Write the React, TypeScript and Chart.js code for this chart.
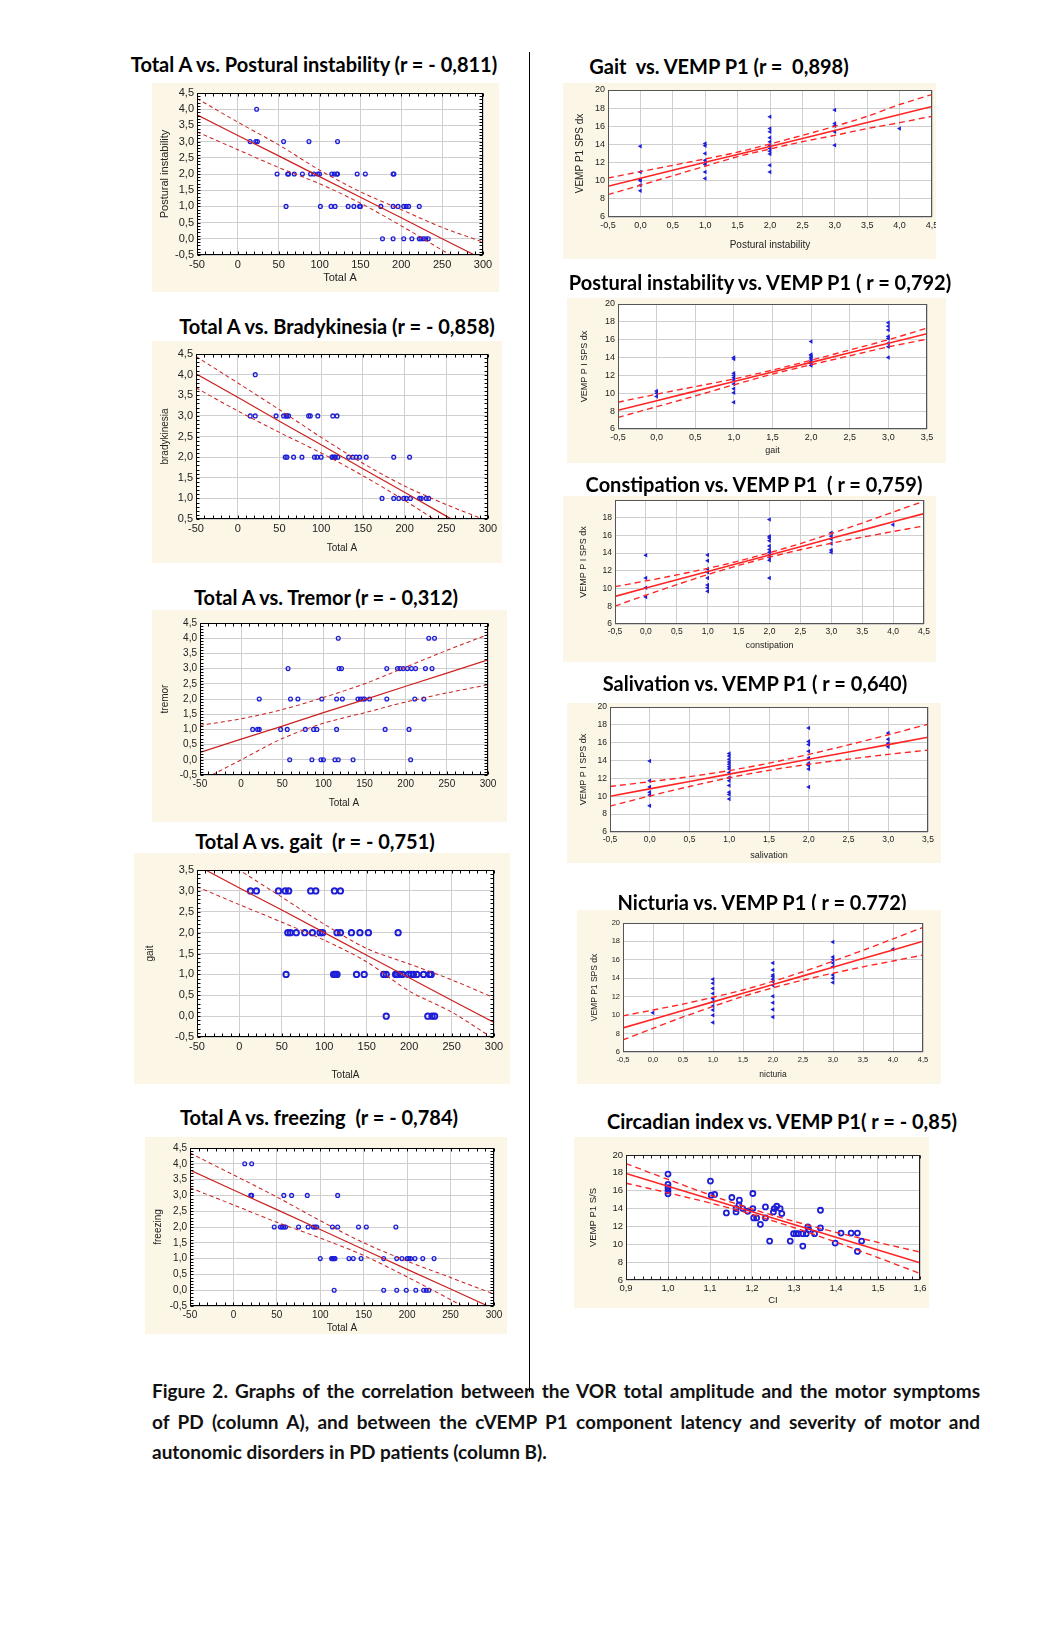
import React, { useEffect, useRef } from 'react';
import { Chart, registerables } from 'chart.js';
Chart.register(...registerables);

// ---------------- DATA ----------------
// Column A: Total A (x) vs motor symptom (y)
const p1X = [23, 15, 22, 24, 56, 87, 122, 48, 61, 62, 69, 79, 89, 93, 98, 100, 115, 118, 121, 122, 146, 156, 190, 191, 59, 101, 114, 119, 135, 142, 149, 150, 175, 190, 196, 203, 206, 209, 222, 177, 190, 203, 213, 222, 224, 227, 230, 233];
const p1Y = [4, 3, 3, 3, 3, 3, 3, 2, 2, 2, 2, 2, 2, 2, 2, 2, 2, 2, 2, 2, 2, 2, 2, 2, 1, 1, 1, 1, 1, 1, 1, 1, 1, 1, 1, 1, 1, 1, 1, 0, 0, 0, 0, 0, 0, 0, 0, 0];

const p2X = [21, 15, 21, 46, 55, 58, 59, 61, 85, 87, 96, 114, 119, 57, 59, 67, 77, 92, 95, 100, 113, 114, 116, 117, 120, 133, 138, 142, 146, 154, 187, 206, 173, 187, 193, 199, 202, 207, 218, 220, 226, 229];
const p2Y = [4, 3, 3, 3, 3, 3, 3, 3, 3, 3, 3, 3, 3, 2, 2, 2, 2, 2, 2, 2, 2, 2, 2, 2, 2, 2, 2, 2, 2, 2, 2, 2, 1, 1, 1, 1, 1, 1, 1, 1, 1, 1];

const p3X = [118, 228, 235, 57, 119, 122, 177, 190, 193, 197, 202, 207, 212, 224, 232, 22, 60, 69, 98, 116, 123, 142, 145, 148, 150, 156, 177, 211, 222, 14, 20, 22, 48, 56, 78, 88, 92, 116, 175, 204, 59, 86, 97, 100, 114, 118, 136, 206];
const p3Y = [4, 4, 4, 3, 3, 3, 3, 3, 3, 3, 3, 3, 3, 3, 3, 2, 2, 2, 2, 2, 2, 2, 2, 2, 2, 2, 2, 2, 2, 1, 1, 1, 1, 1, 1, 1, 1, 1, 1, 1, 0, 0, 0, 0, 0, 0, 0, 0];

const p4X = [13, 20, 46, 54, 58, 84, 90, 112, 119, 57, 60, 67, 77, 86, 95, 98, 115, 119, 132, 142, 152, 187, 205, 55, 111, 113, 115, 138, 147, 170, 173, 184, 186, 189, 192, 199, 202, 209, 217, 224, 226, 173, 222, 227, 230];
const p4Y = [3, 3, 3, 3, 3, 3, 3, 3, 3, 2, 2, 2, 2, 2, 2, 2, 2, 2, 2, 2, 2, 2, 1, 1, 1, 1, 1, 1, 1, 1, 1, 1, 1, 1, 1, 1, 1, 1, 1, 1, 1, 0, 0, 0, 0];

const p5X = [13, 21, 20, 21, 58, 67, 85, 120, 47, 54, 56, 58, 60, 75, 86, 92, 94, 96, 114, 120, 144, 153, 187, 100, 113, 114, 115, 116, 117, 133, 138, 147, 173, 188, 194, 200, 202, 204, 209, 218, 231, 116, 173, 188, 199, 210, 219, 222, 225, 227];
const p5Y = [4, 4, 3, 3, 3, 3, 3, 3, 2, 2, 2, 2, 2, 2, 2, 2, 2, 2, 2, 2, 2, 2, 2, 1, 1, 1, 1, 1, 1, 1, 1, 1, 1, 1, 1, 1, 1, 1, 1, 1, 1, 0, 0, 0, 0, 0, 0, 0, 0];

const totalAX = [-50, 0, 50, 100, 150, 200, 250, 300];
const p1Fit = [3.83, 3.19, 2.56, 1.92, 1.28, 0.65, 0.0, -0.63];
const p1Up = [4.33, 3.6, 2.9, 2.12, 1.45, 0.9, 0.35, -0.1];
const p1Lo = [3.3, 2.75, 2.2, 1.7, 1.1, 0.4, -0.35, -1.1];
const p2Fit = [4.02, 3.45, 2.87, 2.3, 1.72, 1.15, 0.57, 0.0];
const p2Up = [4.44, 3.8, 3.15, 2.48, 1.85, 1.3, 0.85, 0.45];
const p2Lo = [3.68, 3.12, 2.6, 2.1, 1.55, 0.95, 0.3, -0.35];
const p3Fit = [0.24, 0.68, 1.11, 1.55, 1.98, 2.42, 2.85, 3.29];
const p3Up = [1.13, 1.35, 1.65, 2.05, 2.5, 3.05, 3.6, 4.12];
const p3Lo = [-0.7, 0.0, 0.7, 1.2, 1.55, 1.9, 2.2, 2.47];
const p4Fit = [3.61, 3.07, 2.54, 2.0, 1.46, 0.92, 0.38, -0.15];
const p4Up = [4.2, 3.5, 2.85, 2.2, 1.62, 1.25, 0.87, 0.44];
const p4Lo = [3.1, 2.67, 2.25, 1.82, 1.3, 0.6, 0.1, -0.55];
const p5Fit = [3.8, 3.17, 2.55, 1.92, 1.29, 0.66, 0.04, -0.59];
const p5Up = [4.34, 3.65, 2.95, 2.2, 1.5, 0.92, 0.4, -0.12];
const p5Lo = [3.24, 2.7, 2.15, 1.65, 1.1, 0.42, -0.3, -1.05];

// Column B: symptom score (x) vs VEMP P1 latency (y)
const p6X = [0, 0, 0, 0, 0, 0, 1, 1, 1, 1, 1, 1, 1, 1, 2, 2, 2, 2, 2, 2, 2, 2, 2, 2, 2, 3, 3, 3, 3, 3, 4];
const p6Y = [13.8, 10.95, 10.1, 10.0, 9.5, 8.9, 14.1, 13.85, 13.0, 12.25, 12.0, 11.8, 10.95, 10.25, 17.05, 15.75, 15.4, 14.75, 14.3, 13.85, 13.55, 13.25, 12.95, 11.7, 10.95, 17.8, 16.3, 16.05, 15.4, 13.9, 15.75];

const p7X = [0, 0, 0, 1, 1, 1, 1, 1, 1, 1, 1, 1, 1, 2, 2, 2, 2, 2, 2, 2, 2, 3, 3, 3, 3, 3, 3, 3, 3];
const p7Y = [10.25, 10.0, 9.65, 14.0, 13.85, 12.25, 12.0, 11.75, 11.5, 11.05, 10.5, 10.05, 9.0, 15.8, 14.35, 14.2, 14.0, 13.85, 13.6, 13.35, 13.1, 17.9, 17.5, 17.1, 16.35, 16.15, 15.6, 15.2, 14.0];

const p8X = [0, 0, 0, 0, 1, 1, 1, 1, 1, 1, 1, 1, 2, 2, 2, 2, 2, 2, 2, 2, 2, 2, 2, 3, 3, 3, 3, 3, 3, 4];
const p8Y = [13.75, 11.2, 10.1, 9.05, 13.8, 13.15, 12.2, 11.85, 11.2, 10.4, 10.1, 9.7, 17.8, 15.9, 15.7, 15.4, 14.8, 14.4, 14.1, 13.8, 13.5, 13.2, 11.2, 16.3, 15.9, 15.6, 15.1, 14.35, 14.1, 17.2];

const p9X = [0, 0, 0, 0, 0, 0, 1, 1, 1, 1, 1, 1, 1, 1, 1, 1, 1, 1, 1, 1, 2, 2, 2, 2, 2, 2, 2, 2, 2, 3, 3, 3, 3];
const p9Y = [13.95, 11.75, 11.05, 10.45, 10.15, 8.95, 14.8, 14.5, 14.15, 13.85, 13.6, 13.3, 13.05, 12.65, 12.1, 11.75, 11.2, 10.45, 10.2, 9.7, 17.65, 16.15, 15.8, 15.05, 14.3, 13.7, 13.45, 13.05, 11.05, 17.1, 16.4, 15.95, 15.55];

const p10X = [0, 1, 1, 1, 1, 1, 1, 1, 1, 1, 1, 2, 2, 2, 2, 2, 2, 2, 2, 2, 2, 2, 3, 3, 3, 3, 3, 3, 3, 3, 4];
const p10Y = [10.25, 13.9, 13.45, 12.9, 12.35, 11.8, 11.45, 11.0, 10.55, 10.0, 9.2, 15.65, 14.9, 14.35, 14.2, 13.9, 13.65, 13.25, 12.05, 11.35, 10.6, 9.8, 17.95, 16.3, 16.0, 15.65, 15.25, 14.35, 14.0, 13.55, 17.15];

const p11X = [1.0, 1.0, 1.0, 1.0, 1.0, 1.101, 1.103, 1.111, 1.139, 1.152, 1.162, 1.162, 1.17, 1.169, 1.178, 1.19, 1.202, 1.202, 1.204, 1.211, 1.22, 1.232, 1.232, 1.242, 1.251, 1.253, 1.259, 1.267, 1.271, 1.291, 1.299, 1.305, 1.31, 1.321, 1.321, 1.329, 1.333, 1.335, 1.349, 1.363, 1.363, 1.398, 1.412, 1.436, 1.451, 1.451, 1.461];
const p11Y = [17.86, 16.7, 16.33, 15.99, 15.65, 17.08, 15.5, 15.58, 13.51, 15.24, 14.0, 13.63, 14.94, 14.38, 14.0, 13.7, 15.69, 14.0, 12.95, 12.95, 12.24, 14.19, 12.95, 10.36, 13.63, 14.0, 14.26, 14.0, 13.44, 10.36, 11.19, 11.19, 11.19, 9.8, 11.19, 11.19, 11.94, 11.64, 11.19, 13.81, 11.83, 10.14, 11.26, 11.26, 11.26, 9.2, 10.36];

const score45X = [-0.5, 0, 0.5, 1, 1.5, 2, 2.5, 3, 3.5, 4, 4.5];
const score35X = [-0.5, 0, 0.5, 1, 1.5, 2, 2.5, 3, 3.5];
const ciX = [0.9, 1.0, 1.1, 1.2, 1.3, 1.4, 1.5, 1.6];
const p6Fit = [9.39, 10.27, 11.15, 12.03, 12.9, 13.78, 14.66, 15.54, 16.42, 17.3, 18.18];
const p6Up = [10.3, 11.0, 11.7, 12.4, 13.15, 14.05, 15.0, 16.0, 17.1, 18.4, 19.5];
const p6Lo = [8.47, 9.5, 10.55, 11.6, 12.65, 13.5, 14.3, 15.0, 15.75, 16.4, 17.1];
const p7Fit = [8.1, 9.17, 10.24, 11.31, 12.39, 13.46, 14.53, 15.6, 16.67];
const p7Up = [9.0, 9.9, 10.75, 11.6, 12.6, 13.7, 14.85, 16.0, 17.3];
const p7Lo = [7.3, 8.5, 9.7, 10.95, 12.15, 13.2, 14.2, 15.2, 16.05];
const p8Fit = [9.12, 10.06, 10.99, 11.93, 12.86, 13.8, 14.73, 15.67, 16.6, 17.54, 18.47];
const p8Up = [10.22, 10.86, 11.54, 12.28, 13.11, 14.05, 15.08, 16.22, 17.4, 18.64, 19.87];
const p8Lo = [8.02, 9.26, 10.44, 11.58, 12.61, 13.55, 14.38, 15.12, 15.8, 16.44, 17.07];
const p9Fit = [10.0, 10.83, 11.65, 12.48, 13.31, 14.14, 14.96, 15.79, 16.62];
const p9Up = [11.1, 11.63, 12.2, 12.88, 13.71, 14.69, 15.76, 16.89, 18.07];
const p9Lo = [8.9, 10.03, 11.1, 12.08, 12.91, 13.59, 14.16, 14.69, 15.17];
const p10Fit = [8.62, 9.56, 10.5, 11.44, 12.38, 13.32, 14.26, 15.2, 16.14, 17.08, 18.02];
const p10Up = [9.92, 10.56, 11.2, 11.94, 12.73, 13.67, 14.71, 15.85, 17.04, 18.28, 19.52];
const p10Lo = [7.32, 8.56, 9.8, 10.94, 12.03, 12.97, 13.81, 14.55, 15.24, 15.88, 16.52];
const p11Fit = [17.94, 16.51, 15.08, 13.65, 12.22, 10.79, 9.36, 7.93];
const p11Up = [19.04, 17.26, 15.53, 13.95, 12.57, 11.34, 10.21, 9.13];
const p11Lo = [16.84, 15.76, 14.63, 13.35, 11.87, 10.24, 8.51, 6.73];

const captionLines = [
  'Figure 2. Graphs of the correlation between the VOR total amplitude and the motor symptoms',
  'of PD (column A), and between the cVEMP P1 component latency and severity of motor and',
  'autonomic disorders in PD patients (column B).',
];

// ---------------- STYLE / LAYOUT ----------------
const BLUE = '#1e1ed8';
const BG = '#fcf6e7';
const OFF = 8; // body margin
const TICK_FONT = 'Liberation Sans, Arial, sans-serif';
const TITLE_FONT = 'Lato, "Open Sans", sans-serif';

type Kind = 'A' | 'Abig' | 'B' | 'Bcirc';

interface Spec {
  title: string;
  bg: number[];
  plot: number[];
  tpos: number[];
  yTitleX: number;
  xTitleY: number;
  xs: number[];
  ys: number[];
  lx: number[];
  fit: number[];
  up: number[];
  lo: number[];
  xr: number[];
  yr: number[];
  xDec: number;
  yDec: number;
  xTitle: string;
  yTitle: string;
  kind: Kind;
  tickSize: number;
  axTitleSize: number;
  hideYTop?: boolean;
  minorX?: number;
  minorY?: number;
  frame?: string;
}

const specs: Spec[] = [
  { title: 'Total A vs. Postural instability (r = - 0,811)', bg: [152, 83, 499, 292], plot: [197, 93, 483, 255], tpos: [314, 64], yTitleX: 165, xTitleY: 278,
    xs: p1X, ys: p1Y, lx: totalAX, fit: p1Fit, up: p1Up, lo: p1Lo, xr: [-50, 300, 50], yr: [-0.5, 4.5, 0.5], xDec: 0, yDec: 1,
    xTitle: 'Total A', yTitle: 'Postural instability', kind: 'A', tickSize: 11, axTitleSize: 11, minorX: 10, minorY: 0.1 },
  { title: 'Total A vs. Bradykinesia (r = - 0,858)', bg: [152, 341, 502, 563], plot: [196, 354, 488, 519], tpos: [337, 326], yTitleX: 165, xTitleY: 548,
    xs: p2X, ys: p2Y, lx: totalAX, fit: p2Fit, up: p2Up, lo: p2Lo, xr: [-50, 300, 50], yr: [0.5, 4.5, 0.5], xDec: 0, yDec: 1,
    xTitle: 'Total A', yTitle: 'bradykinesia', kind: 'A', tickSize: 11, axTitleSize: 10, minorX: 10, minorY: 0.1 },
  { title: 'Total A vs. Tremor (r = - 0,312)', bg: [152, 610, 507, 822], plot: [200, 623, 488, 775], tpos: [326, 597], yTitleX: 165, xTitleY: 803,
    xs: p3X, ys: p3Y, lx: totalAX, fit: p3Fit, up: p3Up, lo: p3Lo, xr: [-50, 300, 50], yr: [-0.5, 4.5, 0.5], xDec: 0, yDec: 1,
    xTitle: 'Total A', yTitle: 'tremor', kind: 'A', tickSize: 10, axTitleSize: 10, minorX: 10, minorY: 0.1 },
  { title: 'Total A vs. gait  (r = - 0,751)', bg: [134, 853, 510, 1084], plot: [197, 870, 494, 1037], tpos: [315, 841], yTitleX: 150, xTitleY: 1075,
    xs: p4X, ys: p4Y, lx: totalAX, fit: p4Fit, up: p4Up, lo: p4Lo, xr: [-50, 300, 50], yr: [-0.5, 3.5, 0.5], xDec: 0, yDec: 1,
    xTitle: 'TotalA', yTitle: 'gait', kind: 'Abig', tickSize: 11, axTitleSize: 10, minorX: 10, minorY: 0.1 },
  { title: 'Total A vs. freezing  (r = - 0,784)', bg: [145, 1137, 507, 1334], plot: [190, 1148, 494, 1306], tpos: [319, 1117], yTitleX: 158, xTitleY: 1329,
    xs: p5X, ys: p5Y, lx: totalAX, fit: p5Fit, up: p5Up, lo: p5Lo, xr: [-50, 300, 50], yr: [-0.5, 4.5, 0.5], xDec: 0, yDec: 1,
    xTitle: 'Total A', yTitle: 'freezing', kind: 'A', tickSize: 10, axTitleSize: 10, minorX: 10, minorY: 0.1 },
  { title: 'Gait  vs. VEMP P1 (r =  0,898)', bg: [563, 83, 936, 259], plot: [608, 90, 932, 217], tpos: [719, 66], yTitleX: 580, xTitleY: 245,
    xs: p6X, ys: p6Y, lx: score45X, fit: p6Fit, up: p6Up, lo: p6Lo, xr: [-0.5, 4.5, 0.5], yr: [6, 20, 2], xDec: 1, yDec: 0,
    xTitle: 'Postural instability', yTitle: 'VEMP P1 SPS dx', kind: 'B', tickSize: 9, axTitleSize: 10, frame: '#555' },
  { title: 'Postural instability vs. VEMP P1 ( r = 0,792)', bg: [567, 298, 946, 463], plot: [618, 304, 927, 429], tpos: [760, 282], yTitleX: 585, xTitleY: 451,
    xs: p7X, ys: p7Y, lx: score35X, fit: p7Fit, up: p7Up, lo: p7Lo, xr: [-0.5, 3.5, 0.5], yr: [6, 20, 2], xDec: 1, yDec: 0,
    xTitle: 'gait', yTitle: 'VEMP P I SPS dx', kind: 'B', tickSize: 9, axTitleSize: 9, frame: '#555' },
  { title: 'Constipation vs. VEMP P1  ( r = 0,759)', bg: [563, 496, 936, 662], plot: [615, 499, 924, 624], tpos: [754, 484], yTitleX: 584, xTitleY: 646,
    xs: p8X, ys: p8Y, lx: score45X, fit: p8Fit, up: p8Up, lo: p8Lo, xr: [-0.5, 4.5, 0.5], yr: [6, 20, 2], xDec: 1, yDec: 0,
    xTitle: 'constipation', yTitle: 'VEMP P I SPS dx', kind: 'B', tickSize: 8.5, axTitleSize: 9, hideYTop: true, frame: '#555' },
  { title: 'Salivation vs. VEMP P1 ( r = 0,640)', bg: [567, 703, 941, 863], plot: [610, 705, 928, 832], tpos: [755, 683], yTitleX: 584, xTitleY: 856,
    xs: p9X, ys: p9Y, lx: score35X, fit: p9Fit, up: p9Up, lo: p9Lo, xr: [-0.5, 3.5, 0.5], yr: [6, 20, 2], xDec: 1, yDec: 0,
    xTitle: 'salivation', yTitle: 'VEMP P I SPS dx', kind: 'B', tickSize: 8.5, axTitleSize: 9, frame: '#555' },
  { title: 'Nicturia vs. VEMP P1 ( r = 0,772)', bg: [577, 910, 941, 1084], plot: [623, 923, 923, 1052], tpos: [762, 902], yTitleX: 595, xTitleY: 1075,
    xs: p10X, ys: p10Y, lx: score45X, fit: p10Fit, up: p10Up, lo: p10Lo, xr: [-0.5, 4.5, 0.5], yr: [6, 20, 2], xDec: 1, yDec: 0,
    xTitle: 'nicturia', yTitle: 'VEMP P1 SPS dx', kind: 'B', tickSize: 7.5, axTitleSize: 8.5, frame: '#555' },
  { title: 'Circadian index vs. VEMP P1( r = - 0,85)', bg: [574, 1137, 929, 1308], plot: [626, 1155, 920, 1280], tpos: [782, 1121], yTitleX: 593, xTitleY: 1300,
    xs: p11X, ys: p11Y, lx: ciX, fit: p11Fit, up: p11Up, lo: p11Lo, xr: [0.9, 1.6, 0.1], yr: [6, 20, 2], xDec: 1, yDec: 0,
    xTitle: 'CI', yTitle: 'VEMP P1 S/S', kind: 'Bcirc', tickSize: 9.5, axTitleSize: 9.5, minorX: 0.02, frame: '#222' },
];

const framePlugin = {
  id: 'frame',
  beforeDraw(chart: any) {
    const { ctx, chartArea: a } = chart;
    ctx.save();
    ctx.fillStyle = '#ffffff';
    ctx.fillRect(a.left, a.top, a.right - a.left, a.bottom - a.top);
    ctx.restore();
  },
  afterDraw(chart: any, _args: any, opts: any) {
    const { ctx, chartArea: a, scales } = chart;
    ctx.save();
    ctx.strokeStyle = opts.color || '#000';
    ctx.lineWidth = 1;
    const l = Math.round(a.left) + 0.5, t = Math.round(a.top) + 0.5;
    const r = Math.round(a.right) - 0.5, b = Math.round(a.bottom) - 0.5;
    ctx.strokeRect(l, t, r - l, b - t);
    ctx.beginPath();
    if (opts.minorX) {
      const sx = scales.x;
      const n = Math.round((sx.max - sx.min) / opts.minorX);
      for (let i = 0; i <= n; i++) {
        const px = Math.round(sx.getPixelForValue(sx.min + i * opts.minorX)) + 0.5;
        ctx.moveTo(px, t); ctx.lineTo(px, t + 3);
        ctx.moveTo(px, b); ctx.lineTo(px, b - 3);
      }
    }
    if (opts.minorY) {
      const sy = scales.y;
      const n = Math.round((sy.max - sy.min) / opts.minorY);
      for (let i = 0; i <= n; i++) {
        const py = Math.round(sy.getPixelForValue(sy.min + i * opts.minorY)) + 0.5;
        ctx.moveTo(l, py); ctx.lineTo(l + 3, py);
        ctx.moveTo(r, py); ctx.lineTo(r - 3, py);
      }
    }
    ctx.stroke();
    ctx.restore();
  },
};

function fmt(v: number, dec: number) {
  return Number(v).toFixed(dec).replace('.', ',');
}

function Panel({ s }: { s: Spec }) {
  const ref = useRef<HTMLCanvasElement>(null);
  const [bl, bt, br, bb] = s.bg;
  const [pl, pt, pr, pb] = s.plot;
  const W = br - bl, H = bb - bt;

  useEffect(() => {
    const isA = s.kind === 'A' || s.kind === 'Abig';
    const red = isA ? '#cc2020' : '#ff2424';
    const pts = s.xs.map((x, i) => ({ x, y: s.ys[i] }));
    const line = (arr: number[]) => s.lx.map((x, i) => ({ x, y: arr[i] }));
    let pointOpts: any;
    if (s.kind === 'A') pointOpts = { pointStyle: 'circle', pointRadius: 1.9, pointBorderWidth: 1.3, pointBackgroundColor: 'rgba(255,255,255,0)', pointBorderColor: BLUE };
    else if (s.kind === 'Abig') pointOpts = { pointStyle: 'circle', pointRadius: 2.7, pointBorderWidth: 1.9, pointBackgroundColor: 'rgba(255,255,255,0)', pointBorderColor: BLUE };
    else if (s.kind === 'Bcirc') pointOpts = { pointStyle: 'circle', pointRadius: 2.5, pointBorderWidth: 1.8, pointBackgroundColor: 'rgba(255,255,255,0)', pointBorderColor: BLUE };
    else pointOpts = { pointStyle: 'triangle', pointRotation: -90, pointRadius: 2.6, pointBorderWidth: 0, pointBackgroundColor: BLUE, pointBorderColor: BLUE };
    const lw = isA ? 1.2 : 1.6;
    const dash = isA ? [4, 3] : [6, 4];
    const tension = 0.3;
    const titleSize = s.axTitleSize;
    const chart = new Chart(ref.current as HTMLCanvasElement, {
      type: 'scatter',
      data: {
        datasets: [
          { data: line(s.up), showLine: true, borderColor: red, borderWidth: lw * 0.85, borderDash: dash, pointRadius: 0, tension, fill: false } as any,
          { data: line(s.lo), showLine: true, borderColor: red, borderWidth: lw * 0.85, borderDash: dash, pointRadius: 0, tension, fill: false } as any,
          { data: line(s.fit), showLine: true, borderColor: red, borderWidth: lw, pointRadius: 0, tension: 0, fill: false } as any,
          { data: pts, showLine: false, ...pointOpts } as any,
        ],
      },
      options: {
        responsive: false,
        animation: false,
        events: [],
        layout: { padding: { top: pt - bt, right: br - pr, left: 0, bottom: 0 } },
        plugins: { legend: { display: false }, tooltip: { enabled: false }, frame: { color: s.frame || '#000', minorX: s.minorX, minorY: s.minorY } } as any,
        scales: {
          x: {
            type: 'linear', min: s.xr[0], max: s.xr[1],
            grid: { color: '#cfcfcf', drawTicks: false, lineWidth: 1 },
            border: { display: false },
            ticks: { stepSize: s.xr[2], autoSkip: false, maxRotation: 0, padding: 3, color: '#222', font: { family: TICK_FONT, size: s.tickSize }, callback: (v: any) => fmt(v, s.xDec) },
            title: { display: true, text: s.xTitle, color: '#222', font: { family: TICK_FONT, size: titleSize }, padding: { top: 0, bottom: Math.max(0, (bb - s.xTitleY) - titleSize * 0.6) } },
            afterFit: (sc: any) => { sc.height = bb - pb; sc.paddingLeft = 0; sc.paddingRight = 0; },
          },
          y: {
            type: 'linear', min: s.yr[0], max: s.yr[1],
            grid: { color: '#cfcfcf', drawTicks: false, lineWidth: 1 },
            border: { display: false },
            ticks: { stepSize: s.yr[2], autoSkip: false, padding: 3, color: '#222', font: { family: TICK_FONT, size: s.tickSize },
              callback: (v: any) => (s.hideYTop && Number(v) === s.yr[1] ? '' : fmt(v, s.yDec)) },
            title: { display: true, text: s.yTitle, color: '#222', font: { family: TICK_FONT, size: titleSize }, padding: { top: Math.max(0, (s.yTitleX - bl) - titleSize * 0.6), bottom: 0 } },
            afterFit: (sc: any) => { sc.width = pl - bl; sc.paddingTop = 0; sc.paddingBottom = 0; },
          },
        },
      } as any,
      plugins: [framePlugin as any],
    });
    return () => chart.destroy();
  }, []);

  return (
    <>
      <div style={{ position: 'absolute', left: s.tpos[0] - 300 - OFF, top: s.tpos[1] - 13 - OFF, width: 600, height: 26, lineHeight: '26px', textAlign: 'center', fontFamily: TITLE_FONT, fontWeight: 700, fontSize: 20, color: '#000', whiteSpace: 'pre' }}>
        {s.title}
      </div>
      <div style={{ position: 'absolute', left: bl - OFF, top: bt - OFF, width: W, height: H, background: BG }}>
        <canvas ref={ref} width={W} height={H} style={{ display: 'block', width: W, height: H }} />
      </div>
    </>
  );
}

export default function App() {
  return (
    <div style={{ position: 'relative', width: 1043, height: 1610, background: '#fff' }}>
      <div style={{ position: 'absolute', left: 529 - OFF, top: 52 - OFF, width: 1, height: 1340, background: '#000' }} />
      {specs.map((s, i) => <Panel key={i} s={s} />)}
      <div style={{ position: 'absolute', left: 152 - OFF, top: 1376 - OFF, width: 828, fontFamily: TITLE_FONT, fontWeight: 700, fontSize: 19, lineHeight: '30.5px', color: '#111' }}>
        {captionLines.map((t, i) => (
          <div key={i} style={{ textAlign: 'justify', textAlignLast: i < 2 ? 'justify' : 'left', whiteSpace: 'nowrap' as any }}>{t}</div>
        ))}
      </div>
    </div>
  );
}
